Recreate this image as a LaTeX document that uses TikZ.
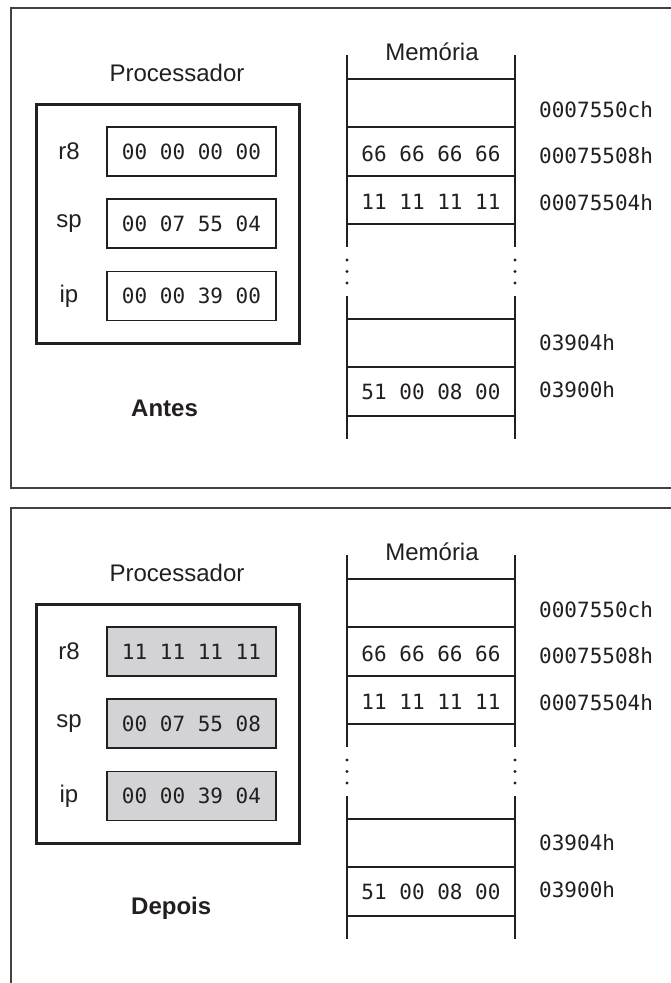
\documentclass[tikz,border=0pt]{standalone}
\usepackage{fontspec}
\setmainfont{Liberation Sans}
\newfontfamily\monof{DejaVu Sans Mono}
\definecolor{ink}{HTML}{231F20}
\definecolor{regfill}{HTML}{D3D3D5}
\tikzset{
 frame/.style={draw=ink!85, line width=1.8pt},
 cpubox/.style={draw=ink, line width=3pt, minimum width=263pt, minimum height=239pt, inner sep=0pt},
 regbox/.style={draw=ink, line width=1.4pt, minimum width=169pt, minimum height=49pt, inner sep=0pt, font=\monof\fontsize{21}{24}\selectfont, text=ink},
 memline/.style={draw=ink, line width=1.9pt},
 mono/.style={font=\monof\fontsize{21}{24}\selectfont, text=ink, inner sep=0pt},
 sans/.style={font=\fontsize{24}{27}\selectfont, text=ink, inner sep=0pt},
 boldcap/.style={font=\bfseries\fontsize{24}{27}\selectfont, text=ink, inner sep=0pt},
 memdot/.style={circle, fill=ink, inner sep=0pt, minimum size=3.4pt}
}
\newcommand\panelfig[7]{%
\begin{scope}[shift={(0,#2)}]
 \node[sans] (#1title) at (177,73) {Processador};
 \node[cpubox] (#1cpu) at (167.5,223.5) {};
 \node[regbox, fill=#6] (#1r8) at (191.5,151.5) {#3};
 \node[regbox, fill=#6] (#1sp) at (191.5,223.5) {#4};
 \node[regbox, fill=#6] (#1ip) at (191.5,296) {#5};
 \node[sans] (#1r8l) at (69,151.5) {r8};
 \node[sans] (#1spl) at (69,223.5) {sp};
 \node[sans] (#1ipl) at (69,296) {ip};
 \node[boldcap, anchor=west] (#1cap) at (131,408) {#7};
 % memory
 \node[sans] (#1mem) at (432,52) {Memória};
 \coordinate (#1la) at (347,55); \coordinate (#1lb) at (347,247);
 \coordinate (#1lc) at (347,296); \coordinate (#1ld) at (347,439);
 \coordinate (#1ra) at (515,55); \coordinate (#1rb) at (515,247);
 \coordinate (#1rc) at (515,296); \coordinate (#1rd) at (515,439);
 \draw[memline] (#1la) -- (#1lb) (#1lc) -- (#1ld) (#1ra) -- (#1rb) (#1rc) -- (#1rd);
 \foreach \yy in {79,127,176,224,319,367,416}{
   \draw[memline] (347,\yy) -- (515,\yy);
 }
 \foreach \yy in {260,271.5,283}{
   \node[memdot] at (347,\yy) {};
   \node[memdot] at (515,\yy) {};
 }
 \node[mono] (#1m1) at (431,154) {66 66 66 66};
 \node[mono] (#1m2) at (431,202) {11 11 11 11};
 \node[mono] (#1m3) at (431,392) {51 00 08 00};
 \node[mono, anchor=west] (#1a1) at (539,110) {0007550ch};
 \node[mono, anchor=west] (#1a2) at (539,156) {00075508h};
 \node[mono, anchor=west] (#1a3) at (539,203) {00075504h};
 \node[mono, anchor=west] (#1a4) at (539,343) {03904h};
 \node[mono, anchor=west] (#1a5) at (539,390) {03900h};
\end{scope}}
\begin{document}
\begin{tikzpicture}[x=1pt,y=-1pt]
 \useasboundingbox (0,0) rectangle (670,983);
 \fill[white] (0,0) rectangle (670,983);
 \draw[frame] (671,8) -- (11,8) -- (11,488) -- (671,488);
 \draw[frame] (671,508) -- (11,508) -- (11,984);
 \panelfig{a}{0}{00 00 00 00}{00 07 55 04}{00 00 39 00}{white}{Antes}
 \panelfig{b}{500}{11 11 11 11}{00 07 55 08}{00 00 39 04}{regfill}{Depois}
\end{tikzpicture}
\end{document}
